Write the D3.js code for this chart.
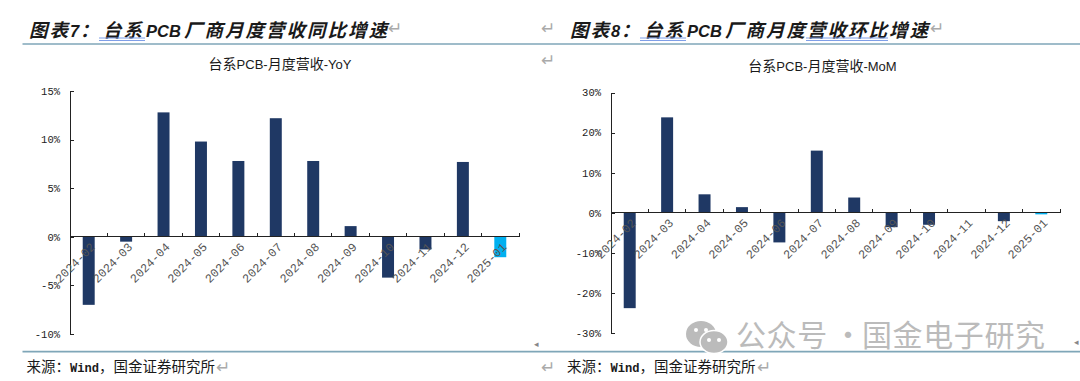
<!DOCTYPE html>
<html>
<head>
<meta charset="utf-8">
<script src="https://cdn.jsdelivr.net/npm/d3@7/dist/d3.min.js"></script>
<style>
  html, body { margin: 0; padding: 0; background: #fff; }
  svg { display: block; }
  text { fill: #1a1a1a; }
  .heading { font-family: "Noto Sans CJK SC", sans-serif; font-size: 18.5px; font-weight: 700; font-style: italic; letter-spacing: 2px; }
  .heading .latin { font-family: "Liberation Sans", sans-serif; font-size: 16.5px; letter-spacing: 0; }
  .chartTitle { font-family: "Noto Sans CJK SC", sans-serif; font-size: 14px; text-anchor: middle; }
  .chartTitle .latin { font-family: "Liberation Sans", sans-serif; font-size: 13px; }
  .source { font-family: "Noto Sans CJK SC", sans-serif; font-size: 14.5px; }
  .source .latin { font-family: "Liberation Mono", monospace; font-size: 12.1px; font-weight: 700; }
  .mark { font-family: "DejaVu Sans", sans-serif; font-size: 17px; fill: #aaa; }
  .axis text { font-family: "Liberation Mono", monospace; font-size: 10.5px; fill: #222; }
  .axis path, .axis line { stroke: #222; shape-rendering: crispEdges; }
  .xAxis text { font-size: 12px; fill: #555; }
  .watermark { font-family: "Noto Sans CJK SC", sans-serif; font-size: 30px; letter-spacing: 0.6px; fill: #bbb; }
</style>
</head>
<body>
<div class="container"></div>
<script>
const WIDTH = 1080;
const HEIGHT = 381;
const NAVY = '#1f3864';
const CYAN = '#00b0f0';
const RULE = '#7fa6b8';
const SQUIGGLE = '#7f9fe8';

const months = ['2024-02', '2024-03', '2024-04', '2024-05', '2024-06', '2024-07',
  '2024-08', '2024-09', '2024-10', '2024-11', '2024-12', '2025-01'];
const yoyValues = [-7.0, -0.5, 12.8, 9.8, 7.8, 12.2, 7.8, 1.1, -4.2, -1.3, 7.7, -2.1];
const momValues = [-23.8, 23.8, 4.6, 1.4, -7.4, 15.5, 3.8, -3.6, -3.0, 0, -2.1, -0.4];
const yoyTicks = [-10, -5, 0, 5, 10, 15];
const momTicks = [-30, -20, -10, 0, 10, 20, 30];

var svg = d3.select('.container').append('svg')
  .attr('width', WIDTH)
  .attr('height', HEIGHT);

function appendMixed(el, parts) {
  parts.forEach(function (p) {
    var span = el.append('tspan').text(p.text);
    if (p.latin) span.attr('class', 'latin');
    if (p.x !== undefined) span.attr('x', p.x);
  });
}

function createChart(args) {
  var y = d3.scaleLinear()
    .domain(args.domain)
    .range([args.bottom, args.top]);
  var x = d3.scaleBand()
    .domain(months)
    .range([args.left, args.right])
    .paddingInner(0.68)
    .paddingOuter(0.34);

  svg.append('g').selectAll('rect')
    .data(args.values)
    .enter().append('rect')
    .attr('x', function (d, i) { return x(months[i]); })
    .attr('y', function (d) { return y(Math.max(d, 0)); })
    .attr('width', x.bandwidth())
    .attr('height', function (d) { return Math.abs(y(d) - y(0)); })
    .attr('fill', function (d, i) { return i === months.length - 1 ? CYAN : NAVY; });

  var yAxis = d3.axisLeft(y)
    .tickValues(args.ticks)
    .tickSize(-4)
    .tickPadding(10)
    .tickFormat(function (d) { return d + '%'; });
  svg.append('g')
    .attr('class', 'axis')
    .attr('transform', 'translate(' + args.left + ',0)')
    .call(yAxis);

  // tick marks sit between the bars on the category axis
  var xAxis = d3.axisBottom(x).tickSize(0);
  var xGroup = svg.append('g')
    .attr('class', 'axis xAxis')
    .attr('transform', 'translate(0,' + y(0) + ')')
    .call(xAxis);
  xGroup.select('.domain').attr('d', 'M' + args.left + ',0H' + args.right);
  xGroup.selectAll('.tick text')
    .attr('x', 0)
    .attr('y', 0)
    .attr('dy', '0.35em')
    .attr('text-anchor', 'end')
    .attr('transform', 'translate(4,8) rotate(-45)');
  xGroup.selectAll('.sep')
    .data(months)
    .enter().append('line')
    .attr('class', 'sep')
    .attr('x1', function (d) { return x(d) + x.bandwidth() / 2 + x.step() / 2; })
    .attr('x2', function (d) { return x(d) + x.bandwidth() / 2 + x.step() / 2; })
    .attr('y1', 0)
    .attr('y2', -4);

  var title = svg.append('text')
    .attr('class', 'chartTitle')
    .attr('x', args.titleX)
    .attr('y', args.titleY);
  appendMixed(title, [
    { text: '台系' }, { text: 'PCB-', latin: true }, { text: '月度营收' }, { text: '-' + args.suffix, latin: true }
  ]);
}

function createHeading(offset, num, tail) {
  var head = svg.append('text').attr('class', 'heading').attr('y', 37);
  appendMixed(head, [
    { text: '图表', x: 29 + offset },
    { text: num, x: 70 + offset, latin: true },
    { text: '：', x: 80 + offset },
    { text: '台系', x: 103 + offset },
    { text: 'PCB', x: 146 + offset, latin: true },
    { text: '厂商月度营收' + tail + '比增速', x: 184 + offset }
  ]);
}

function createSource(x) {
  var src = svg.append('text').attr('class', 'source').attr('x', x).attr('y', 372);
  appendMixed(src, [
    { text: '来源：' }, { text: 'Wind', latin: true }, { text: '，国金证券研究所' }
  ]);
}

// the two page rules run across both panels
[[44, 1.3], [351.7, 1.8]].forEach(function (r) {
  svg.append('line')
    .attr('x1', 22.5).attr('x2', WIDTH).attr('y1', r[0]).attr('y2', r[0])
    .attr('stroke', RULE).attr('stroke-width', r[1]);
});

createHeading(0, '7', '同');
createHeading(541, '8', '环');
createSource(26.5);
createSource(567);

// spell check underlines below the headings
[[99, 145], [640, 686], [806, 888]].forEach(function (u) {
  [38, 40.5].forEach(function (yy) {
    svg.append('line')
      .attr('x1', u[0]).attr('x2', u[1]).attr('y1', yy).attr('y2', yy)
      .attr('stroke', SQUIGGLE).attr('stroke-width', 1);
  });
});

createChart({
  suffix: 'YoY', titleX: 280, titleY: 69,
  values: yoyValues, domain: [-10, 15], ticks: yoyTicks,
  left: 70, right: 519, top: 91, bottom: 334
});
createChart({
  suffix: 'MoM', titleX: 822.5, titleY: 71,
  values: momValues, domain: [-30, 30], ticks: momTicks,
  left: 611, right: 1060, top: 92.5, bottom: 333
});

// paragraph marks left over from the document page
const returnMarks = [[388, 34], [541, 34], [930, 34], [541, 66], [216, 373], [541, 373], [757, 373]];
svg.append('g').selectAll('text')
  .data(returnMarks)
  .enter().append('text')
  .attr('class', 'mark')
  .attr('x', function (d) { return d[0]; })
  .attr('y', function (d) { return d[1]; })
  .text('↵');

// watermark
var wm = svg.append('g').attr('fill', '#bbb');
wm.append('ellipse').attr('cx', 701).attr('cy', 334).attr('rx', 15).attr('ry', 13);
wm.append('ellipse').attr('cx', 714).attr('cy', 342).attr('rx', 14).attr('ry', 11.5)
  .attr('stroke', '#fff').attr('stroke-width', 1.5);
[[696, 330], [706, 330], [709, 340], [719, 340]].forEach(function (e) {
  wm.append('circle').attr('cx', e[0]).attr('cy', e[1]).attr('r', 2).attr('fill', '#fff');
});
var wmText = svg.append('text').attr('class', 'watermark').attr('y', 346);
appendMixed(wmText, [
  { text: '公众号', x: 736 }, { text: '·', x: 833 }, { text: '国金电子研究', x: 862 }
]);

// small anchors at the right edge of each panel
[[534, 347], [1074, 345]].forEach(function (a) {
  svg.append('text')
    .attr('x', a[0]).attr('y', a[1])
    .attr('font-family', 'DejaVu Sans').attr('font-size', 9)
    .style('fill', '#888')
    .text('◂');
});
</script>
</body>
</html>
